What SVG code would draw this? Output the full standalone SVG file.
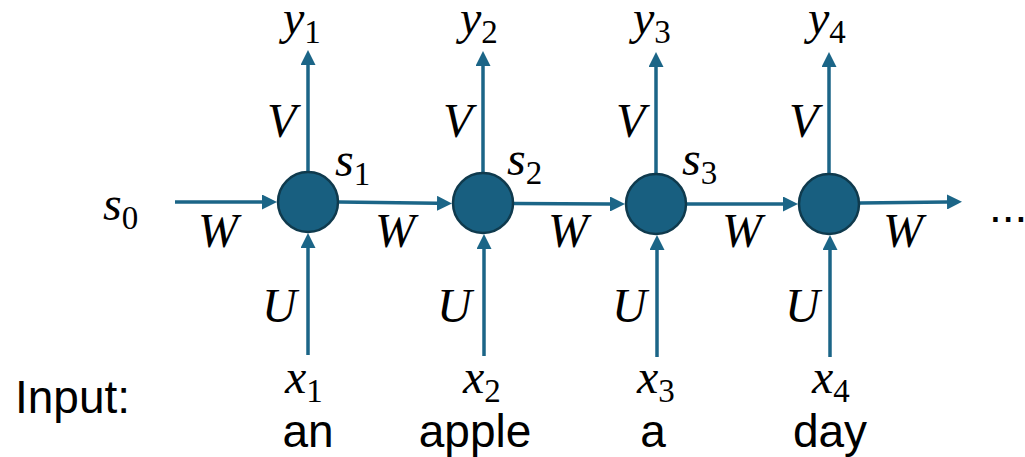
<svg xmlns="http://www.w3.org/2000/svg" width="1025" height="457" viewBox="0 0 1025 457">
<style>
.m{font-family:"Liberation Serif",serif;font-style:italic;font-size:48px;fill:#000}
.m tspan{font-style:normal;font-size:33px}
.w{font-family:"Liberation Sans",Arial,sans-serif;font-size:46px;fill:#000}
.c{stroke:#1b6587;stroke-width:3.5;fill:none;marker-end:url(#ah)}
.n{fill:#185f80;stroke:#0f3a4d;stroke-width:2.5}
</style>
<defs>
<marker id="ah" viewBox="0 0 15 15" markerWidth="15" markerHeight="15" markerUnits="userSpaceOnUse" refX="0" refY="7.5" orient="auto">
<path d="M0,0 L15,7.5 L0,15 z" fill="#1b6587"/>
</marker>
</defs>
<rect width="1025" height="457" fill="#fff"/>
<g id="connectors">
<path class="c" d="M175,202 L262,202"/>
<path class="c" d="M339,202 L437,203.3"/>
<path class="c" d="M514,203.5 L610,204"/>
<path class="c" d="M687,204 L783,204"/>
<path class="c" d="M860,203 L947,202"/>
<path class="c" d="M308,171 L308,65"/>
<path class="c" d="M483,172 L483,66"/>
<path class="c" d="M656,173 L656,67"/>
<path class="c" d="M829,173 L829,67"/>
<path class="c" d="M308,355 L308,248"/>
<path class="c" d="M484,356 L484,249"/>
<path class="c" d="M657,357 L657,250"/>
<path class="c" d="M830,357 L830,250"/>
</g>
<g id="node1"><circle class="n" cx="308" cy="202" r="30"/></g>
<g id="node2"><circle class="n" cx="483" cy="203" r="30"/></g>
<g id="node3"><circle class="n" cx="656" cy="204" r="30"/></g>
<g id="node4"><circle class="n" cx="829" cy="204" r="30"/></g>
<g id="labels">
<text class="m" x="283" y="34">y<tspan dy="9">1</tspan></text>
<text class="m" x="460" y="34">y<tspan dy="9">2</tspan></text>
<text class="m" x="633" y="34">y<tspan dy="9">3</tspan></text>
<text class="m" x="808" y="34">y<tspan dy="9">4</tspan></text>
<text class="m" x="267" y="137">V</text>
<text class="m" x="443" y="137">V</text>
<text class="m" x="616" y="137">V</text>
<text class="m" x="789" y="137">V</text>
<text class="m" x="103" y="220">s<tspan dy="9">0</tspan></text>
<text class="m" x="335" y="176">s<tspan dy="9">1</tspan></text>
<text class="m" x="507" y="175">s<tspan dy="9">2</tspan></text>
<text class="m" x="682" y="175">s<tspan dy="9">3</tspan></text>
<text class="m" x="198" y="247">W</text>
<text class="m" x="375" y="247">W</text>
<text class="m" x="548" y="247">W</text>
<text class="m" x="722" y="247">W</text>
<text class="m" x="883" y="247">W</text>
<text class="w" x="989" y="222">...</text>
<text class="m" x="262" y="322">U</text>
<text class="m" x="437" y="322">U</text>
<text class="m" x="612" y="322">U</text>
<text class="m" x="785" y="322">U</text>
<text class="m" x="285" y="393">x<tspan dy="9">1</tspan></text>
<text class="m" x="463" y="393">x<tspan dy="9">2</tspan></text>
<text class="m" x="637" y="393">x<tspan dy="9">3</tspan></text>
<text class="m" x="812" y="393">x<tspan dy="9">4</tspan></text>
<text class="w" x="15" y="413">Input:</text>
<text class="w" x="308" y="447" text-anchor="middle">an</text>
<text class="w" x="475" y="447" text-anchor="middle">apple</text>
<text class="w" x="653" y="447" text-anchor="middle">a</text>
<text class="w" x="830" y="447" text-anchor="middle">day</text>
</g>
</svg>
